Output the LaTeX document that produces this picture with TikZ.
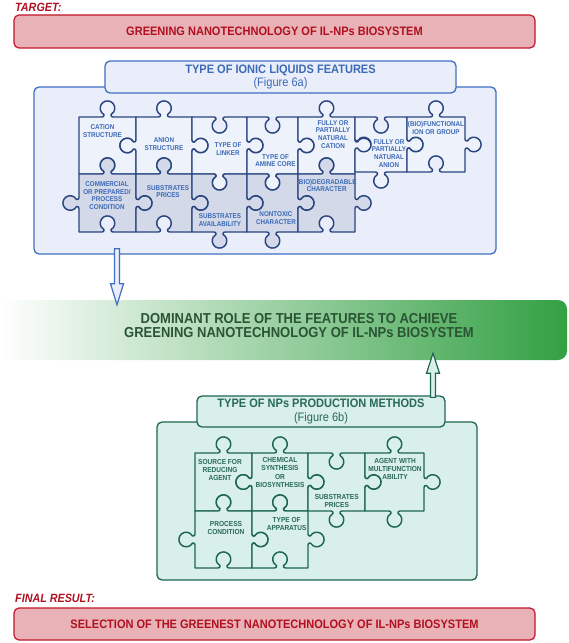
\documentclass[tikz,border=0pt]{standalone}
\usepackage{fontspec}
\setmainfont{Liberation Sans}[FakeStretch=0.9]
\usetikzlibrary{calc}
\definecolor{redF}{HTML}{E8B2B6}
\definecolor{redS}{HTML}{C0172A}
\definecolor{redT}{HTML}{B01020}
\definecolor{ilF}{HTML}{E9EEFA}
\definecolor{ilS}{HTML}{3F6FC0}
\definecolor{ilT}{HTML}{3C6AB6}
\definecolor{pzS}{HTML}{2A4580}
\definecolor{pzL}{HTML}{EEF2FB}
\definecolor{pzD}{HTML}{D3D9E8}
\definecolor{npF}{HTML}{D8EFEA}
\definecolor{npS}{HTML}{1D6652}
\definecolor{npT}{HTML}{2A6A56}
\definecolor{bnG}{HTML}{33A043}
\definecolor{bnT}{HTML}{2A5434}
% knob geometry
\newcommand\KnR{7.3}
\newcommand\KnH{3.5}
\newcommand\KnC{8.8}
\newcommand\KnB{5.5}
\newcommand\kedge[5]{%
  \ifnum#5=0\relax
    \xdef\pcpath{\pcpath -- (#3,#4)}%
  \else
    \pgfmathsetmacro\kux{sign((#3)-(#1))}%
    \pgfmathsetmacro\kuy{sign((#4)-(#2))}%
    \pgfmathsetmacro\kvx{(#5)*(\kuy)}%
    \pgfmathsetmacro\kvy{-(#5)*(\kux)}%
    \pgfmathsetmacro\kmx{((#1)+(#3))/2}%
    \pgfmathsetmacro\kmy{((#2)+(#4))/2}%
    \pgfmathsetmacro\ko{sqrt(\KnR*\KnR-\KnH*\KnH)}%
    \pgfmathsetmacro\kn{\KnC-\ko}%
    \pgfmathsetmacro\bAx{\kmx-\KnB*(\kux)}\pgfmathsetmacro\bAy{\kmy-\KnB*(\kuy)}%
    \pgfmathsetmacro\cAx{\kmx-(\KnH+0.3)*(\kux)}\pgfmathsetmacro\cAy{\kmy-(\KnH+0.3)*(\kuy)}%
    \pgfmathsetmacro\dAx{\kmx-\KnH*(\kux)+(\kvx)}\pgfmathsetmacro\dAy{\kmy-\KnH*(\kuy)+(\kvy)}%
    \pgfmathsetmacro\nAx{\kmx-\KnH*(\kux)+\kn*(\kvx)}\pgfmathsetmacro\nAy{\kmy-\KnH*(\kuy)+\kn*(\kvy)}%
    \pgfmathsetmacro\ksa{atan2(-\KnH*(\kuy)-\ko*(\kvy),-\KnH*(\kux)-\ko*(\kvx))}%
    \pgfmathsetmacro\kda{(#5)*(360-2*asin(\KnH/\KnR))}%
    \pgfmathsetmacro\dBx{\kmx+\KnH*(\kux)+(\kvx)}\pgfmathsetmacro\dBy{\kmy+\KnH*(\kuy)+(\kvy)}%
    \pgfmathsetmacro\cBx{\kmx+(\KnH+0.3)*(\kux)}\pgfmathsetmacro\cBy{\kmy+(\KnH+0.3)*(\kuy)}%
    \pgfmathsetmacro\bBx{\kmx+\KnB*(\kux)}\pgfmathsetmacro\bBy{\kmy+\KnB*(\kuy)}%
    \xdef\pcpath{\pcpath -- (\bAx,\bAy) .. controls (\cAx,\cAy) and (\dAx,\dAy) .. (\nAx,\nAy) arc[start angle=\ksa, delta angle=\kda, radius=\KnR] .. controls (\dBx,\dBy) and (\cBx,\cBy) .. (\bBx,\bBy) -- (#3,#4)}%
  \fi}
\newcommand\pcdraw[2]{\path[#2] #1 -- cycle;}
% #1 style, #2 x1, #3 y1, #4 x2, #5 y2, #6 top, #7 right, #8 bottom, #9 left
\newcommand\piece[9]{%
  \xdef\pcpath{(#2,#3)}%
  \kedge{#2}{#3}{#4}{#3}{#6}%
  \kedge{#4}{#3}{#4}{#5}{#7}%
  \kedge{#4}{#5}{#2}{#5}{#8}%
  \kedge{#2}{#5}{#2}{#3}{#9}%
  \expandafter\pcdraw\expandafter{\pcpath}{#1}}
\begin{document}
\begin{tikzpicture}[x=1bp,y=-1bp,
  redbox/.style={draw=redS, fill=redF, line width=1.2bp, rounded corners=5bp, inner sep=0, text=redT, font=\fontsize{12.3}{14}\selectfont\bfseries},
  ilbox/.style={draw=ilS, fill=ilF, line width=1.3bp, rounded corners=5bp, inner sep=0},
  iltitle/.style={ilbox, text=ilT, align=center, font=\fontsize{12.3}{12.6}\selectfont},
  npbox/.style={draw=npS, fill=npF, line width=1.3bp, rounded corners=5bp, inner sep=0},
  nptitle/.style={npbox, text=npT, align=center, font=\fontsize{12.3}{13.6}\selectfont},
  pzA/.style={draw=pzS, fill=pzL, line width=1.45bp, line join=round},
  pzB/.style={draw=pzS, fill=pzD, line width=1.45bp, line join=round},
  pzC/.style={draw=npS, fill=npF, line width=1.45bp, line join=round},
  lblA/.style={text=ilT, font=\fontsize{7}{7.7}\selectfont\bfseries, align=center, inner sep=0},
  lblB/.style={text=npT, font=\fontsize{7.3}{8.2}\selectfont\bfseries, align=center, inner sep=0},
  headlbl/.style={text=redT, font=\fontsize{12}{14}\selectfont\bfseries\itshape, anchor=west, inner sep=0},
  blueArrow/.style={draw=ilS, fill=ilF, line width=1.2bp, line join=miter},
  greenArrow/.style={draw=npS, fill=npF, line width=1.2bp, line join=miter}]
\useasboundingbox (0,0) rectangle (569,643);

% ---- top target
\node[headlbl] (tgtlbl) at (15,7.5) {TARGET:};
\node[redbox, minimum width=521bp, minimum height=33bp] (target) at (274.5,31.5) {GREENING NANOTECHNOLOGY OF IL-NPs BIOSYSTEM};

% ---- ionic liquids box
\node[ilbox, minimum width=462bp, minimum height=167bp] (ilbox) at (265,170.5) {};
\node[iltitle, minimum width=351bp, minimum height=32bp] (iltitle) at (280.5,77) {\bfseries TYPE OF IONIC LIQUIDS FEATURES\\(Figure 6a)};

% top row
\piece{pzA}{79}{117}{136}{174}{1}{-1}{-1}{0}
\piece{pzA}{136}{117}{192}{174}{1}{1}{-1}{1}
\piece{pzA}{192}{117}{247}{174}{-1}{1}{1}{-1}
\piece{pzA}{247}{117}{298}{174}{-1}{1}{1}{-1}
\piece{pzA}{298}{117}{355}{174}{1}{1}{-1}{-1}
\piece{pzA}{355}{117}{407}{172}{-1}{1}{1}{-1}
\piece{pzA}{407}{117}{465}{172}{1}{1}{-1}{-1}
% bottom row
\piece{pzB}{79}{174}{136}{232}{1}{1}{-1}{1}
\piece{pzB}{136}{174}{192}{232}{1}{1}{-1}{-1}
\piece{pzB}{192}{174}{247}{232}{-1}{1}{1}{-1}
\piece{pzB}{247}{174}{298}{232}{-1}{1}{1}{-1}
\piece{pzB}{298}{174}{355}{232}{1}{1}{-1}{-1}

\node[lblA] (l1) at (102.5,131) {CATION\\STRUCTURE};
\node[lblA] (l2) at (164,144) {ANION\\STRUCTURE};
\node[lblA] (l3) at (228,149) {TYPE OF\\LINKER};
\node[lblA] (l4) at (275.5,160.5) {TYPE OF\\AMINE CORE};
\node[lblA] (l5) at (333,134.3) {FULLY OR\\PARTIALLY\\NATURAL\\CATION};
\node[lblA] (l6) at (389,153.3) {FULLY OR\\PARTIALLY\\NATURAL\\ANION};
\node[lblA] (l7) at (436,128) {(BIO)FUNCTIONAL\\ION OR GROUP};
\node[lblA] (l8) at (107,195.6) {COMMERCIAL\\OR PREPARED/\\PROCESS\\CONDITION};
\node[lblA] (l9) at (168,191.5) {SUBSTRATES\\PRICES};
\node[lblA] (l10) at (220,220) {SUBSTRATES\\AVAILABILITY};
\node[lblA] (l11) at (276,218) {NONTOXIC\\CHARACTER};
\node[lblA] (l12) at (326.7,185.5) {(BIO)DEGRADABLE\\CHARACTER};

% ---- banner
\node[rounded corners=9bp, left color=white, right color=bnG, minimum width=567bp, minimum height=60bp, inner sep=0] (banner) at (283.5,330) {};
\node[text=bnT, font=\fontsize{14.5}{15}\selectfont\bfseries, align=center, inner sep=0] (bantext) at (299,325.5) {DOMINANT ROLE OF THE FEATURES TO ACHIEVE\\GREENING NANOTECHNOLOGY OF IL-NPs BIOSYSTEM};

% ---- blue arrow (features -> banner)
\coordinate (bA) at (117,0 |- ilbox.south);
\coordinate (bB) at (117,0 |- banner.north);
\coordinate (bs) at ($(bA)+(0,-6)$);
\coordinate (bt) at ($(bB)+(0,5)$);
\draw[blueArrow] ($(bs)+(-2.5,0)$) -- ($(bt)+(-2.5,-21)$) -- ($(bt)+(-6.5,-21)$) -- (bt) -- ($(bt)+(6.5,-21)$) -- ($(bt)+(2.5,-21)$) -- ($(bs)+(2.5,0)$) -- cycle;

% ---- NPs box
\node[npbox, minimum width=320bp, minimum height=158bp] (npbox) at (317,501) {};
\node[nptitle, minimum width=248bp, minimum height=31bp] (nptitle) at (321,411.5) {\bfseries TYPE OF NPs PRODUCTION METHODS\\(Figure 6b)};

% ---- green arrow (methods -> banner)
\coordinate (gA) at (433,0 |- nptitle.north);
\coordinate (gB) at (433,0 |- banner.south);
\coordinate (gs) at ($(gA)+(0,2)$);
\coordinate (gt) at ($(gB)+(0,-7)$);
\draw[greenArrow] ($(gs)+(-2.5,0)$) -- ($(gt)+(-2.5,20)$) -- ($(gt)+(-6.5,20)$) -- (gt) -- ($(gt)+(6.5,20)$) -- ($(gt)+(2.5,20)$) -- ($(gs)+(2.5,0)$) -- cycle;

\piece{pzC}{195}{453}{252}{511}{1}{-1}{-1}{0}
\piece{pzC}{252}{453}{308}{511}{1}{1}{-1}{1}
\piece{pzC}{308}{453}{365}{511}{-1}{1}{1}{-1}
\piece{pzC}{365}{453}{424}{511}{1}{1}{1}{-1}
\piece{pzC}{195}{511}{252}{568}{1}{1}{-1}{1}
\piece{pzC}{252}{511}{308}{568}{1}{1}{-1}{-1}

\node[lblB] (m1) at (220,470.3) {SOURCE FOR\\REDUCING\\AGENT};
\node[lblB] (m2) at (280,472.5) {CHEMICAL\\SYNTHESIS\\OR\\BIOSYNTHESIS};
\node[lblB] (m3) at (336.7,500.8) {SUBSTRATES\\PRICES};
\node[lblB] (m4) at (395,469) {AGENT WITH\\MULTIFUNCTION\\ABILITY};
\node[lblB] (m5) at (226,528) {PROCESS\\CONDITION};
\node[lblB] (m6) at (286.7,524) {TYPE OF\\APPARATUS};

% ---- final result
\node[headlbl] (finlbl) at (15,598) {FINAL RESULT:};
\node[redbox, minimum width=521bp, minimum height=32bp] (final) at (274.5,624) {SELECTION OF THE GREENEST NANOTECHNOLOGY OF IL-NPs BIOSYSTEM};
\end{tikzpicture}
\end{document}
